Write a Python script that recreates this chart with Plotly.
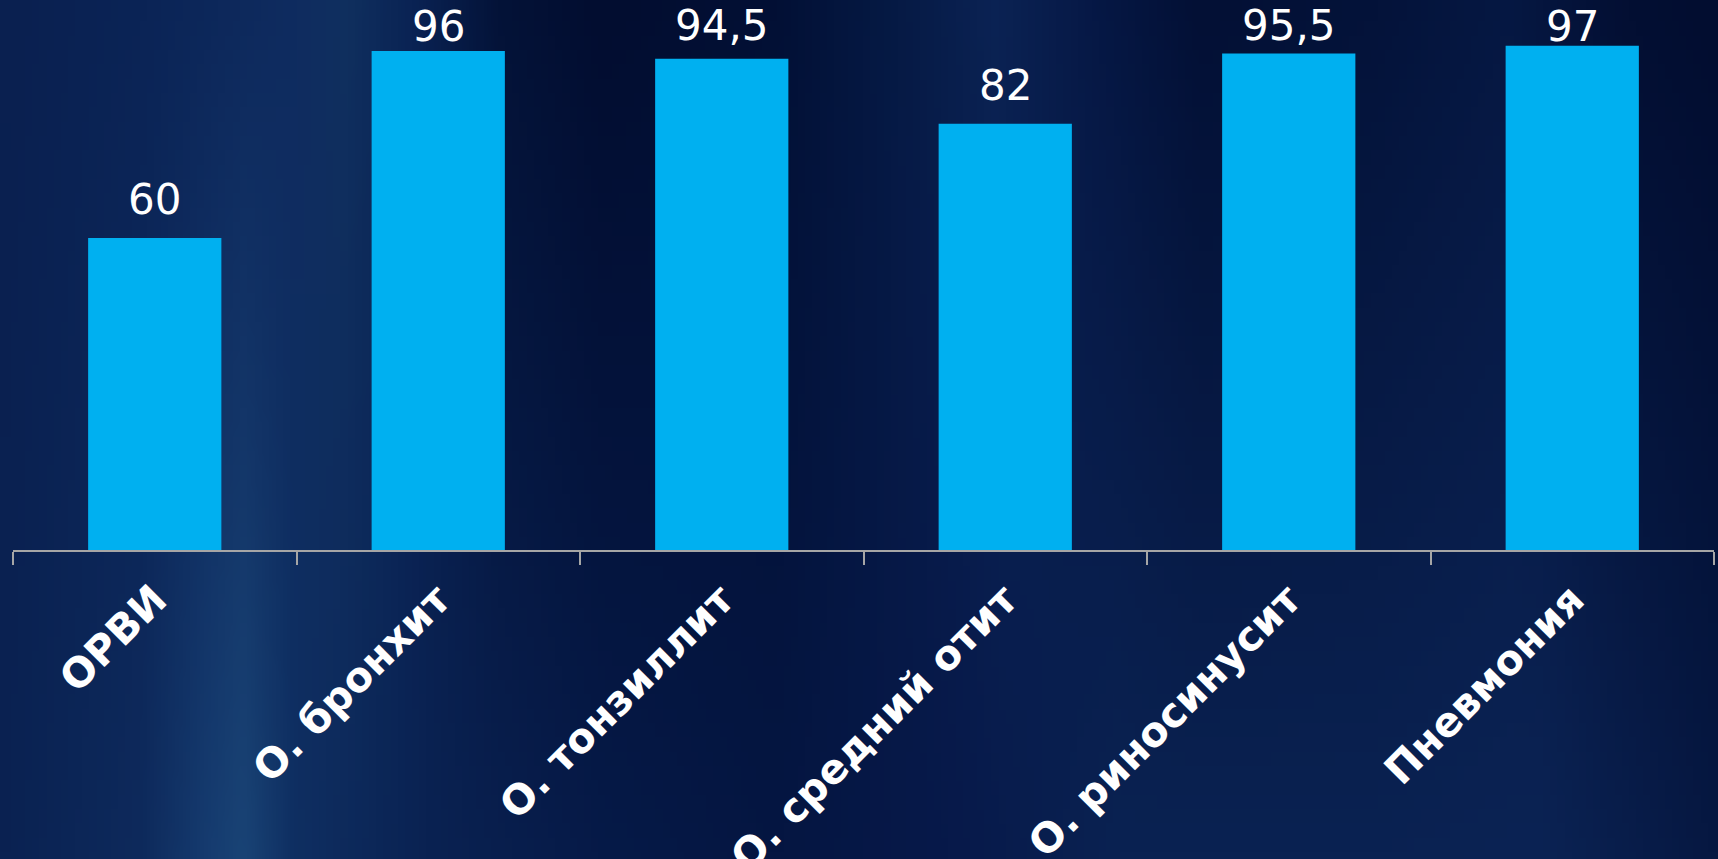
import base64
import struct
import zlib

import numpy as np
import plotly.graph_objects as go

categories = ["ОРВИ", "О. бронхит", "О. тонзиллит", "О. средний отит", "О. риносинусит", "Пневмония"]
values = [60, 96, 94.5, 82, 95.5, 97]
value_labels = ["60", "96", "94,5", "82", "95,5", "97"]

Y_MAX = 105.8
BAR_COLOR = "#00b0f0"

W, H = 1718, 859
M_L, M_R, M_T, M_B = 13, 4, 0, 309


# ---------- decorative background (streaky navy) ----------
def hex_rgb(h):
    h = h.lstrip("#")
    return [int(h[i:i + 2], 16) for i in (0, 2, 4)]


top_keys = [(0.00, "#0a2050"), (0.08, "#0b2456"), (0.17, "#0f2c60"), (0.20, "#10305f"),
            (0.24, "#0a2354"), (0.29, "#041338"), (0.35, "#020d30"), (0.45, "#021035"),
            (0.52, "#061a45"), (0.58, "#0b2354"), (0.64, "#061845"), (0.70, "#031035"),
            (0.80, "#04133a"), (0.88, "#061843"), (0.95, "#030f33"), (1.00, "#020d30")]
bot_keys = [(0.00, "#0a2252"), (0.08, "#0e2a5c"), (0.12, "#163c70"), (0.14, "#1a4476"),
            (0.17, "#0f2f62"), (0.25, "#0a2252"), (0.35, "#061a48"), (0.45, "#051642"),
            (0.55, "#07194a"), (0.65, "#0a2252"), (0.80, "#0a2252"), (0.90, "#0b2354"),
            (1.00, "#061842")]


def profile(keys, xs):
    kx = np.array([k[0] for k in keys])
    cols = np.array([hex_rgb(k[1]) for k in keys], dtype=float)
    return np.stack([np.interp(xs, kx, cols[:, c]) for c in range(3)], axis=1)


bw, bh = 240, 60
xs = np.linspace(0, 1, bw)
ptop = profile(top_keys, xs)
pbot = profile(bot_keys, xs)
t = np.linspace(0, 1, bh)[:, None, None]
img = ptop[None, :, :] * (1 - t) + pbot[None, :, :] * t
img = np.clip(img, 0, 255).astype(np.uint8)


def to_png(a):
    h, w, _ = a.shape
    raw = b"".join(b"\x00" + a[r].tobytes() for r in range(h))

    def chunk(tag, data):
        c = tag + data
        return struct.pack(">I", len(data)) + c + struct.pack(">I", zlib.crc32(c) & 0xffffffff)

    return (b"\x89PNG\r\n\x1a\n" + chunk(b"IHDR", struct.pack(">IIBBBBB", w, h, 8, 2, 0, 0, 0))
            + chunk(b"IDAT", zlib.compress(raw, 9)) + chunk(b"IEND", b""))


bg_uri = "data:image/png;base64," + base64.b64encode(to_png(img)).decode()

# ---------- figure ----------
fig = go.Figure()
fig.add_trace(go.Bar(
    x=categories, y=values, width=0.47,
    marker=dict(color=BAR_COLOR, line=dict(width=0)),
    hoverinfo="skip",
))

# value labels above bars, kept inside the top of the chart
gap_units = 2.3
top_limit = 95.7
for c, v, txt in zip(categories, values, value_labels):
    fig.add_annotation(
        x=c, y=min(v + gap_units, top_limit), xref="x", yref="y",
        text=txt, showarrow=False, yanchor="bottom",
        font=dict(family="DejaVu Sans", size=42, color="white"),
    )

pw = W - M_L - M_R
ph = H - M_T - M_B
fig.add_layout_image(
    source=bg_uri, xref="paper", yref="paper",
    x=-M_L / pw, y=1 + M_T / ph, sizex=W / pw, sizey=H / ph,
    xanchor="left", yanchor="top", sizing="stretch", layer="below",
)

fig.update_layout(
    width=W, height=H,
    margin=dict(l=M_L, r=M_R, t=M_T, b=M_B, autoexpand=False),
    paper_bgcolor="#071a45",
    plot_bgcolor="rgba(0,0,0,0)",
    showlegend=False,
    xaxis=dict(
        automargin=False,
        showline=True, linecolor="#a6a6a6", linewidth=2,
        ticks="outside", ticklen=13, tickcolor="#a6a6a6", tickwidth=2,
        tickson="boundaries", tickangle=-45, ticklabelstandoff=7,
        tickfont=dict(family="DejaVu Sans", size=41, color="white", weight="bold"),
        showgrid=False, zeroline=False,
    ),
    yaxis=dict(range=[0, Y_MAX], visible=False, showgrid=False, zeroline=False, automargin=False),
)

fig.write_html("out.html")
